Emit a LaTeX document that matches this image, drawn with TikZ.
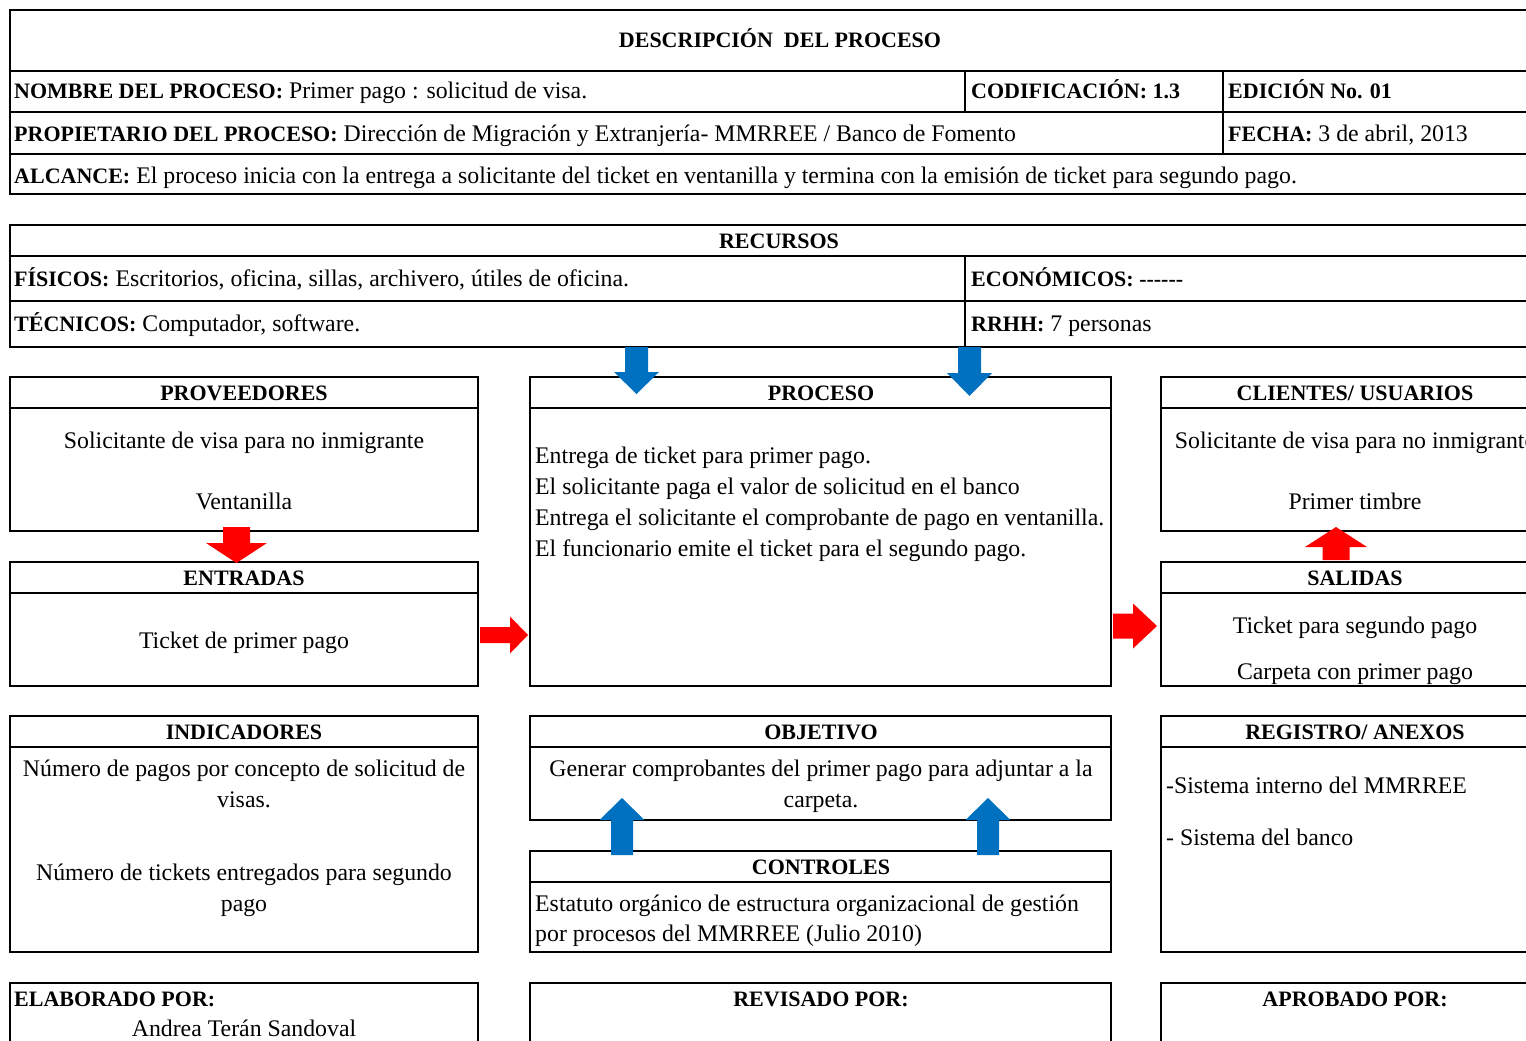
\documentclass[tikz,border=0pt]{standalone}
\usepackage{fontspec}
\setmainfont{Liberation Serif}
\usetikzlibrary{calc}
\definecolor{flowblue}{HTML}{0070C0}
\definecolor{flowred}{HTML}{FF0000}

% bold caption text
\newcommand\bhead[1]{{\fontsize{22}{26}\selectfont\bfseries #1}}

% block arrow: colour, tail, tip, shaft half width, head half width, head length
\newcommand\blockarrow[6]{%
  \coordinate (ba-head) at ($(#3)!#6!(#2)$);
  \fill[#1] ($(#2)!#4!90:(#3)$) -- ($(ba-head)!#4!90:(#3)$) -- ($(ba-head)!#5!90:(#3)$)
    -- (#3) -- ($(ba-head)!#5!-90:(#3)$) -- ($(ba-head)!#4!-90:(#3)$) -- ($(#2)!#4!-90:(#3)$) -- cycle;}

\tikzset{
  panel/.style={draw, line width=1.6pt, rectangle, anchor=north west, inner sep=0pt, outer sep=0pt},
  rule/.style={line width=1.6pt},
  txt/.style={inner sep=0pt, font=\fontsize{23.8}{28}\selectfont},
  ctxt/.style={txt, anchor=base},
  ltxt/.style={txt, anchor=base west},
}

\begin{document}
\begin{tikzpicture}[x=1pt, y=-1pt]
\useasboundingbox (0,0) rectangle (1526,1041);
\clip (0,0) rectangle (1526,1041);

% ---- process description block
\node[panel, minimum width=1539pt, minimum height=184pt] (desc) at (10,10) {};
\foreach \d in {61,102,144}
  \draw[rule] ([yshift=-\d pt]desc.north west) -- ([yshift=-\d pt]desc.north east);
\draw[rule] ([xshift=955pt,yshift=-61pt]desc.north west) -- ([xshift=955pt,yshift=-102pt]desc.north west);
\draw[rule] ([xshift=1213pt,yshift=-61pt]desc.north west) -- ([xshift=1213pt,yshift=-144pt]desc.north west);

\node[ctxt] (title) at (780,48) {\bhead{DESCRIPCIÓN\enspace DEL PROCESO}};
\node[ltxt] (nombre) at (14,99) {\bhead{NOMBRE DEL PROCESO:} Primer pago : solicitud de visa.};
\node[ltxt] (codif) at (971,99) {\bhead{CODIFICACIÓN: 1.3}};
\node[ltxt] (edic) at (1228,99) {\bhead{EDICIÓN No. 01}};
\node[ltxt] (propi) at (14,141) {\bhead{PROPIETARIO DEL PROCESO:} Dirección de Migración y Extranjería- MMRREE / Banco de Fomento};
\node[ltxt] (fecha) at (1228,141) {\bhead{FECHA:} 3 de abril, 2013};
\node[ltxt] (alcance) at (14,183) {\bhead{ALCANCE:} El proceso inicia con la entrega a solicitante del ticket en ventanilla y termina con la emisión de ticket para segundo pago.};

% ---- resources block
\node[panel, minimum width=1539pt, minimum height=122pt] (rec) at (10,225) {};
\foreach \d in {31,76}
  \draw[rule] ([yshift=-\d pt]rec.north west) -- ([yshift=-\d pt]rec.north east);
\draw[rule] ([xshift=955pt,yshift=-31pt]rec.north west) -- ([xshift=955pt]rec.south west);

\node[ctxt] (rectit) at (779,248) {\bhead{RECURSOS}};
\node[ltxt] (fis) at (14,286) {\bhead{FÍSICOS:} Escritorios, oficina, sillas, archivero, útiles de oficina.};
\node[ltxt] (eco) at (971,286) {\bhead{ECONÓMICOS: {-}{-}{-}{-}{-}{-}}};
\node[ltxt] (tec) at (14,331) {\bhead{TÉCNICOS:} Computador, software.};
\node[ltxt] (rrhh) at (971,331) {\bhead{RRHH:} 7 personas};

% ---- panels
\node[panel, minimum width=468pt, minimum height=154pt] (prov) at (10,377) {};
\node[panel, minimum width=468pt, minimum height=124pt] (entr) at (10,562) {};
\node[panel, minimum width=581pt, minimum height=309pt] (proc) at (530,377) {};
\node[panel, minimum width=388pt, minimum height=154pt] (clie) at (1161,377) {};
\node[panel, minimum width=388pt, minimum height=124pt] (sali) at (1161,562) {};
\node[panel, minimum width=468pt, minimum height=236pt] (indi) at (10,716) {};
\node[panel, minimum width=581pt, minimum height=104pt] (obje) at (530,716) {};
\node[panel, minimum width=581pt, minimum height=101pt] (cont) at (530,851) {};
\node[panel, minimum width=388pt, minimum height=236pt] (regi) at (1161,716) {};
\node[panel, minimum width=468pt, minimum height=100pt] (elab) at (10,983) {};
\node[panel, minimum width=581pt, minimum height=100pt] (revi) at (530,983) {};
\node[panel, minimum width=388pt, minimum height=100pt] (apro) at (1161,983) {};

\foreach \b in {prov,entr,proc,clie,sali,indi,obje,cont,regi}
  \draw[rule] ([yshift=-31pt]\b.north west) -- ([yshift=-31pt]\b.north east);

% panel headings
\node[ctxt] (provh) at (244,400) {\bhead{PROVEEDORES}};
\node[ctxt] (proch) at (821,400) {\bhead{PROCESO}};
\node[ctxt] (clieh) at (1355,400) {\bhead{CLIENTES/ USUARIOS}};
\node[ctxt] (entrh) at (244,585) {\bhead{ENTRADAS}};
\node[ctxt] (salih) at (1355,585) {\bhead{SALIDAS}};
\node[ctxt] (indih) at (244,739) {\bhead{INDICADORES}};
\node[ctxt] (objeh) at (821,739) {\bhead{OBJETIVO}};
\node[ctxt] (regih) at (1355,739) {\bhead{REGISTRO/ ANEXOS}};
\node[ctxt] (conth) at (821,874) {\bhead{CONTROLES}};
\node[ltxt] (elabh) at (14,1006) {\bhead{ELABORADO POR:}};
\node[ctxt] (revih) at (821,1006) {\bhead{REVISADO POR:}};
\node[ctxt] (aproh) at (1355,1006) {\bhead{APROBADO POR:}};

% panel contents
\node[ctxt] (prov1) at (244,448) {Solicitante de visa para no inmigrante};
\node[ctxt] (prov2) at (244,509) {Ventanilla};
\node[ctxt] (entr1) at (244,648) {Ticket de primer pago};
\node[ltxt] (proc1) at (535,463) {Entrega de ticket para primer pago.};
\node[ltxt] (proc2) at (535,494) {El solicitante paga el valor de solicitud en el banco};
\node[ltxt] (proc3) at (535,525) {Entrega el solicitante el comprobante de pago en ventanilla.};
\node[ltxt] (proc4) at (535,556) {El funcionario emite el ticket para el segundo pago.};
\node[ctxt] (clie1) at (1355,448) {Solicitante de visa para no inmigrante};
\node[ctxt] (clie2) at (1355,509) {Primer timbre};
\node[ctxt] (sali1) at (1355,633) {Ticket para segundo pago};
\node[ctxt] (sali2) at (1355,679) {Carpeta con primer pago};
\node[ctxt] (indi1) at (244,776) {Número de pagos por concepto de solicitud de};
\node[ctxt] (indi2) at (244,807) {visas.};
\node[ctxt] (indi3) at (244,880) {Número de tickets entregados para segundo};
\node[ctxt] (indi4) at (244,911) {pago};
\node[ctxt] (obje1) at (821,776) {Generar comprobantes del primer pago para adjuntar a la};
\node[ctxt] (obje2) at (821,807) {carpeta.};
\node[ltxt] (cont1) at (535,911) {Estatuto orgánico de estructura organizacional de gestión};
\node[ltxt] (cont2) at (535,941) {por procesos del MMRREE (Julio 2010)};
\node[ltxt] (regi1) at (1166,793) {-Sistema interno del MMRREE};
\node[ltxt] (regi2) at (1166,845) {- Sistema del banco};
\node[ctxt] (elab1) at (244,1036) {Andrea Terán Sandoval};

% ---- flow arrows
% resources feeding the process
\coordinate (rA1) at (636.5,0 |- rec.south);
\coordinate (rB1) at (636.5,394);
\coordinate (rA2) at (969.5,0 |- rec.south);
\coordinate (rB2) at (969.5,396);
\blockarrow{flowblue}{rA1}{rB1}{11.5pt}{22.5pt}{22pt}
\blockarrow{flowblue}{rA2}{rB2}{11.5pt}{22.5pt}{23pt}

% suppliers to inputs
\coordinate (pA) at (236.5,527);
\coordinate (pB) at (236.5,563);
\blockarrow{flowred}{pA}{pB}{13.5pt}{30.5pt}{20pt}

% inputs to process
\coordinate (eA) at (480,635);
\coordinate (eB) at (528,635);
\blockarrow{flowred}{eA}{eB}{8pt}{18.5pt}{18pt}

% process to outputs
\coordinate (sA) at (1113,626);
\coordinate (sB) at (1157,626);
\blockarrow{flowred}{sA}{sB}{12.5pt}{22.5pt}{24pt}

% outputs to clients
\coordinate (cA) at (1336,560);
\coordinate (cB) at (1336,527);
\blockarrow{flowred}{cA}{cB}{13.5pt}{31pt}{20pt}

% controls to objective
\coordinate (kA1) at (622,855);
\coordinate (kB1) at (622,798);
\coordinate (kA2) at (988,855);
\coordinate (kB2) at (988,798);
\blockarrow{flowblue}{kA1}{kB1}{11pt}{22.5pt}{22pt}
\blockarrow{flowblue}{kA2}{kB2}{11pt}{22.5pt}{22pt}
\end{tikzpicture}
\end{document}
